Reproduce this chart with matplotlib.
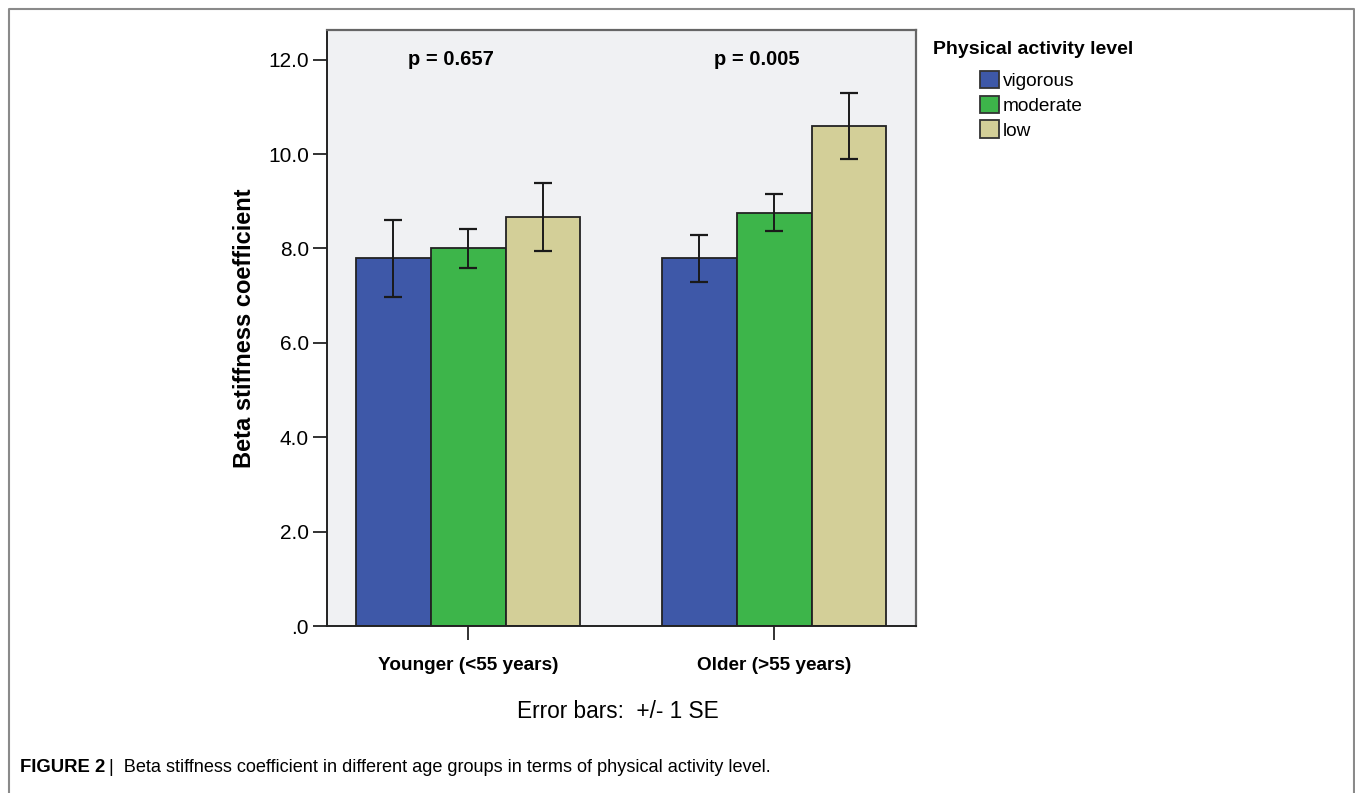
import matplotlib.pyplot as plt
import numpy as np
from matplotlib.patches import Patch
from matplotlib.lines import Line2D

plt.rcParams['font.family'] = ['Liberation Sans', 'DejaVu Sans']

# data
groups = ['Younger (<55 years)', 'Older (>55 years)']
levels = ['vigorous', 'moderate', 'low']
vigorous_mean = [7.79, 7.79]
moderate_mean = [8.00, 8.76]
low_mean = [8.66, 10.60]
vigorous_se = [0.81, 0.50]
moderate_se = [0.42, 0.39]
low_se = [0.72, 0.70]
p_values = ['p = 0.657', 'p = 0.005']
yticks = [0, 2, 4, 6, 8, 10, 12]
ytick_labels = ['.0', '2.0', '4.0', '6.0', '8.0', '10.0', '12.0']

colors = ['#3e58a8', '#3db54a', '#d3cf98']
means = [vigorous_mean, moderate_mean, low_mean]
ses = [vigorous_se, moderate_se, low_se]

W, H = 1355, 793
fig = plt.figure(figsize=(W / 100, H / 100), dpi=100)
fig.patch.set_facecolor('white')

# outer frame (left, top, right only)
fig.add_artist(Line2D([9 / W, 9 / W, 1354 / W, 1354 / W], [0, 1 - 9 / H, 1 - 9 / H, 0],
                      transform=fig.transFigure, color='#8a8a8a', lw=1.5))

ax = fig.add_axes([327 / W, 1 - 626 / H, 589 / W, 596 / H])
ax.set_facecolor('#f0f1f3')

x = np.arange(len(groups))
bw = 0.245
for i, lev in enumerate(levels):
    xs = x + (i - 1) * bw
    ax.bar(xs, means[i], width=bw, color=colors[i], edgecolor='#222222', lw=1.3,
           label=lev, zorder=2)
    ax.errorbar(xs, means[i], yerr=ses[i], fmt='none', ecolor='#1a1a1a',
                elinewidth=1.4, capsize=6.5, capthick=1.6, zorder=3)

ax.set_xlim(-0.461, 1.464)
ax.set_ylim(0, 12.63)
ax.set_yticks(yticks)
ax.set_yticklabels(ytick_labels, fontsize=15)
ax.set_xticks(x)
ax.set_xticklabels(groups, fontsize=13.7, fontweight='bold')
ax.tick_params(axis='y', length=10, width=1.3, pad=3, color='#222222')
ax.tick_params(axis='x', length=10, width=1.3, pad=12, color='#222222')

for side in ['left', 'bottom']:
    ax.spines[side].set_color('#222222')
    ax.spines[side].set_linewidth(1.4)
for side in ['top', 'right']:
    ax.spines[side].set_color('#666666')
    ax.spines[side].set_linewidth(1.6)

ax.set_ylabel('Beta stiffness coefficient', fontsize=17, fontweight='bold')
ax.yaxis.set_label_coords(-0.121, 0.5)

for gi, p in enumerate(p_values):
    ax.text(x[gi] - 0.055, 12.0, p, fontsize=14.5, fontweight='bold', ha='center', va='center')

# legend: title drawn separately so the gap below it matches
fig.text(933 / W, 1 - 50 / H, 'Physical activity level', fontsize=14, fontweight='bold',
         va='center', ha='left')
handles = [Patch(facecolor=c, edgecolor='#333333', lw=1.3) for c in colors]
fig.legend(handles, levels, loc='upper left', bbox_to_anchor=(980 / W, 1 - 71 / H),
           frameon=False, fontsize=13.7,
           handlelength=1.0, handleheight=1.0, handletextpad=0.2,
           labelspacing=0.3, borderpad=0, borderaxespad=0)

fig.text(618 / W, 1 - 711 / H, 'Error bars:  +/- 1 SE', fontsize=16.3, ha='center', va='center')

cap_font = ['Liberation Sans Narrow', 'Liberation Sans']
t1 = fig.text(20 / W, 1 - 768 / H, 'FIGURE 2', fontsize=13.3, fontweight='bold',
              family=cap_font, va='center')
fig.canvas.draw()
bb = t1.get_window_extent(fig.canvas.get_renderer())
fig.text(bb.x1 / W + 4 / W, 1 - 768 / H,
         '|  Beta stiffness coefficient in different age groups in terms of physical activity level.',
         fontsize=13.1, family=cap_font, va='center')

fig.savefig('out.png', dpi=100)
